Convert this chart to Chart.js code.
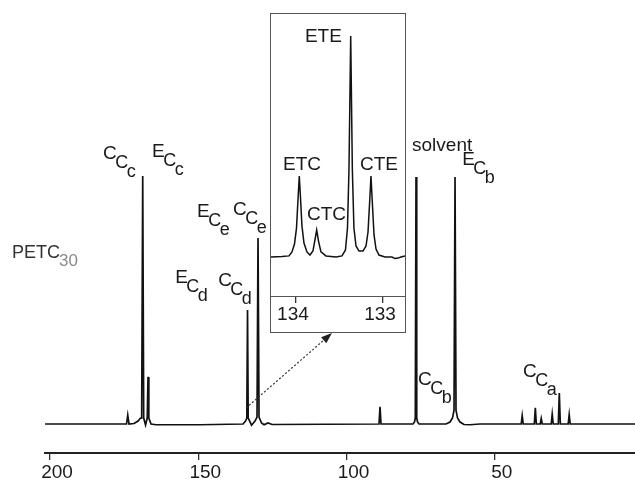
<!DOCTYPE html>
<html>
<head>
<meta charset="utf-8">
<script src="https://cdn.jsdelivr.net/npm/chart.js@4/dist/chart.umd.min.js"></script>
<style>
    html, body { margin: 0; padding: 0; background: #fff; }
    #wrap { position: relative; width: 635px; height: 480px; }
    #main { position: absolute; left: 0; top: 0; }
    #zoomBox { position: absolute; left: 270px; top: 13px; width: 134px; height: 318px; border: 1px solid #555; background: #fff; }
    #zoom { display: block; }
</style>
</head>
<body>
<div id="wrap">
    <canvas id="main" width="635" height="480"></canvas>
    <div id="zoomBox"><canvas id="zoom" width="134" height="318"></canvas></div>
</div>
<script>
// 13C spectrum (ppm vs. relative intensity)
const mainPpm = [201.69, 174.20, 173.79, 173.36, 171.67, 170.32, 169.48, 169.09, 168.74, 168.41,
    167.79, 167.22, 166.95, 166.68, 165.94, 164.25, 149.41, 134.91, 134.06, 133.63, 133.39, 133.16,
    132.04, 130.86, 130.19, 129.85, 129.51, 128.67, 127.82, 126.48, 125.13,
    89.04, 88.70, 88.36, 77.57, 77.07, 76.80, 76.56, 76.32, 76.05, 75.55,
    66.44, 65.09, 64.25, 63.74, 63.40, 63.07, 62.56, 61.72, 60.37, 58.35, 54.97,
    41.08, 40.74, 40.40, 36.66, 36.32, 35.98, 34.67, 34.33, 33.99,
    30.96, 30.62, 30.28, 28.57, 28.23, 27.89, 25.23, 24.89, 24.55, 2.70];
const mainInt = [0, 0, 3.6, 0, 0.2, 1.2, 2.4, 2.4, 100, 2.4,
    -0.4, 2.4, 19, 2.4, 0, -0.3, -0.3, 0, 1.2, 2.4, 46, 2.4,
    -0.5, 1.2, 2.8, 75, 2.8, 0.4, -0.3, 0.4, -0.2,
    0, 6.9, 0, 0, 0.8, 2.4, 99.6, 2.4, 0.8, 0,
    0, 0.8, 2.4, 5.6, 99.6, 5.6, 2.4, 0.8, -0.2, -0.3, 0,
    0, 3.4, 0, 0, 6.5, 0, 0, 2.2, 0,
    0, 4.0, 0, 0, 12.5, 0, 0, 3.8, 0, 0];

// expanded aromatic region, 134.3 - 132.7 ppm
const insetPpm = [134.287, 134.161, 134.080, 134.046, 134.017, 133.994, 133.977, 133.962, 133.948, 133.931,
    133.908, 133.874, 133.839, 133.805, 133.782, 133.762, 133.741, 133.713, 133.655, 133.540,
    133.471, 133.431, 133.408, 133.391, 133.371, 133.352, 133.334, 133.310, 133.276, 133.230,
    133.195, 133.172, 133.152, 133.138, 133.124, 133.103,
    133.080, 133.046, 132.977, 132.897, 132.862, 132.828, 132.793, 132.747];
const insetInt = [0, 0.2, 0.5, 2.3, 5.9, 13.1, 25.8, 36.7, 26.7, 14.0,
    6.3, 2.3, 0.9, 2.7, 7.7, 12.2, 7.2, 2.3, 0.5, 0,
    0.5, 3.2, 13.1, 39.4, 100, 39.4, 13.1, 5.0, 2.7, 2.7,
    5.0, 11.3, 25.8, 36.7, 25.8, 10.0,
    3.6, 0.9, 0, 0, -0.7, -0.5, 0, 0.5];

const mainTicks = [200, 150, 100, 50];
const insetTicks = [134, 133];

// peak assignments: letters stepped down as nested subscripts
const peakLabels = [
    { parts: ['C', 'C', 'c'], ppm: 182.1, y: 106.9 },
    { parts: ['E', 'C', 'c'], ppm: 165.6, y: 107.7 },
    { parts: ['E', 'C', 'e'], ppm: 150.4, y: 83.5 },
    { parts: ['C', 'C', 'e'], ppm: 138.3, y: 84.3 },
    { parts: ['E', 'C', 'd'], ppm: 157.8, y: 56.9 },
    { parts: ['C', 'C', 'd'], ppm: 143.3, y: 55.6 },
    { parts: ['E', 'C', 'b'], ppm: 61.0, y: 104.4 },
    { parts: ['C', 'C', 'b'], ppm: 75.9, y: 15.7 },
    { parts: ['C', 'C', 'a'], ppm: 40.5, y: 19.0 }
];
const insetLabels = [
    { text: 'ETE', ppm: 133.897, y: 97.3 },
    { text: 'ETC', ppm: 134.149, y: 39.4 },
    { text: 'CTC', ppm: 133.874, y: 16.7 },
    { text: 'CTE', ppm: 133.264, y: 39.4 }
];

const FONT = '"Liberation Sans", Arial, Helvetica, sans-serif';
const INK = '#1a1a1a';

const toPoints = (xs, ys) => xs.map((x, i) => ({ x, y: ys[i] }));

function drawStacked(ctx, parts, x, y) {
    let cx = x, cy = y;
    parts.forEach((p, i) => {
        ctx.font = (i === 0 ? 19 : 18) + 'px ' + FONT;
        ctx.fillText(p, cx, cy);
        cx += ctx.measureText(p).width - 1.5;
        cy += 9;
    });
}

const mainLabelsPlugin = {
    id: 'mainLabels',
    afterDatasetsDraw(chart) {
        const { ctx, scales: { x, y } } = chart;
        ctx.save();
        ctx.fillStyle = INK;
        ctx.textBaseline = 'alphabetic';
        ctx.textAlign = 'left';
        peakLabels.forEach(l => drawStacked(ctx, l.parts, x.getPixelForValue(l.ppm), y.getPixelForValue(l.y)));

        ctx.font = '19px ' + FONT;
        ctx.fillText('solvent', x.getPixelForValue(77.9), y.getPixelForValue(110.1));

        // sample name
        const px = x.getPixelForValue(212.8), py = y.getPixelForValue(66.9);
        ctx.fillStyle = '#333';
        ctx.font = '18px ' + FONT;
        ctx.fillText('PETC', px, py);
        const w = ctx.measureText('PETC').width;
        ctx.fillStyle = '#8a8a8a';
        ctx.font = '17px ' + FONT;
        ctx.fillText('30', px + w - 1, py + 8);

        // dotted pointer from the 134 ppm peak up to the expansion
        const x0 = x.getPixelForValue(133.9), y0 = y.getPixelForValue(6.45);
        const x1 = x.getPixelForValue(104.9), y1 = y.getPixelForValue(36.7);
        const ang = Math.atan2(y1 - y0, x1 - x0);
        ctx.strokeStyle = '#333';
        ctx.lineWidth = 1.2;
        ctx.setLineDash([2, 2]);
        ctx.beginPath();
        ctx.moveTo(x0, y0);
        ctx.lineTo(x1 - 9 * Math.cos(ang), y1 - 9 * Math.sin(ang));
        ctx.stroke();
        ctx.setLineDash([]);
        ctx.fillStyle = '#222';
        ctx.beginPath();
        ctx.moveTo(x1, y1);
        ctx.lineTo(x1 - 11 * Math.cos(ang) + 4 * Math.sin(ang), y1 - 11 * Math.sin(ang) - 4 * Math.cos(ang));
        ctx.lineTo(x1 - 11 * Math.cos(ang) - 4 * Math.sin(ang), y1 - 11 * Math.sin(ang) + 4 * Math.cos(ang));
        ctx.closePath();
        ctx.fill();
        ctx.restore();
    }
};

const insetLabelsPlugin = {
    id: 'insetLabels',
    afterDatasetsDraw(chart) {
        const { ctx, scales: { x, y } } = chart;
        ctx.save();
        ctx.fillStyle = INK;
        ctx.font = '19px ' + FONT;
        ctx.textBaseline = 'alphabetic';
        insetLabels.forEach(l => ctx.fillText(l.text, x.getPixelForValue(l.ppm), y.getPixelForValue(l.y)));
        ctx.restore();
    }
};

function axisX(min, max, ticks, height, labelOffset, padding) {
    return {
        type: 'linear', reverse: true, min, max,
        afterBuildTicks: s => { s.ticks = ticks.map(v => ({ value: v })); },
        afterFit: s => { s.height = height; },
        grid: { drawOnChartArea: false, drawTicks: true, tickLength: 7, color: '#333', lineWidth: 1.3 },
        border: { display: true, color: '#222', width: 2 },
        ticks: { font: { size: 19, family: FONT }, color: INK, padding, labelOffset, maxRotation: 0, autoSkip: false }
    };
}

const common = {
    responsive: false,
    animation: false,
    events: [],
    plugins: { legend: { display: false }, tooltip: { enabled: false } },
    elements: { point: { radius: 0 }, line: { tension: 0 } }
};

new Chart(document.getElementById('main'), {
    type: 'scatter',
    data: { datasets: [{ data: toPoints(mainPpm, mainInt), showLine: true, borderColor: '#111', borderWidth: 1.7 }] },
    options: {
        ...common,
        layout: { padding: { left: 45, right: 0, top: 0, bottom: 0 } },
        scales: {
            x: axisX(2.7, 201.7, mainTicks, 27, 7, 1),
            y: { display: false, min: -11.7, max: 171 }
        }
    },
    plugins: [mainLabelsPlugin]
});

new Chart(document.getElementById('zoom'), {
    type: 'scatter',
    data: { datasets: [{ data: toPoints(insetPpm, insetInt), showLine: true, borderColor: '#111', borderWidth: 1.5 }] },
    options: {
        ...common,
        layout: { padding: 0 },
        scales: {
            x: { ...axisX(132.747, 134.287, insetTicks, 36, -3, 0), border: { display: true, color: '#555', width: 1 } },
            y: { display: false, min: -17.65, max: 110 }
        }
    },
    plugins: [insetLabelsPlugin]
});
</script>
</body>
</html>
